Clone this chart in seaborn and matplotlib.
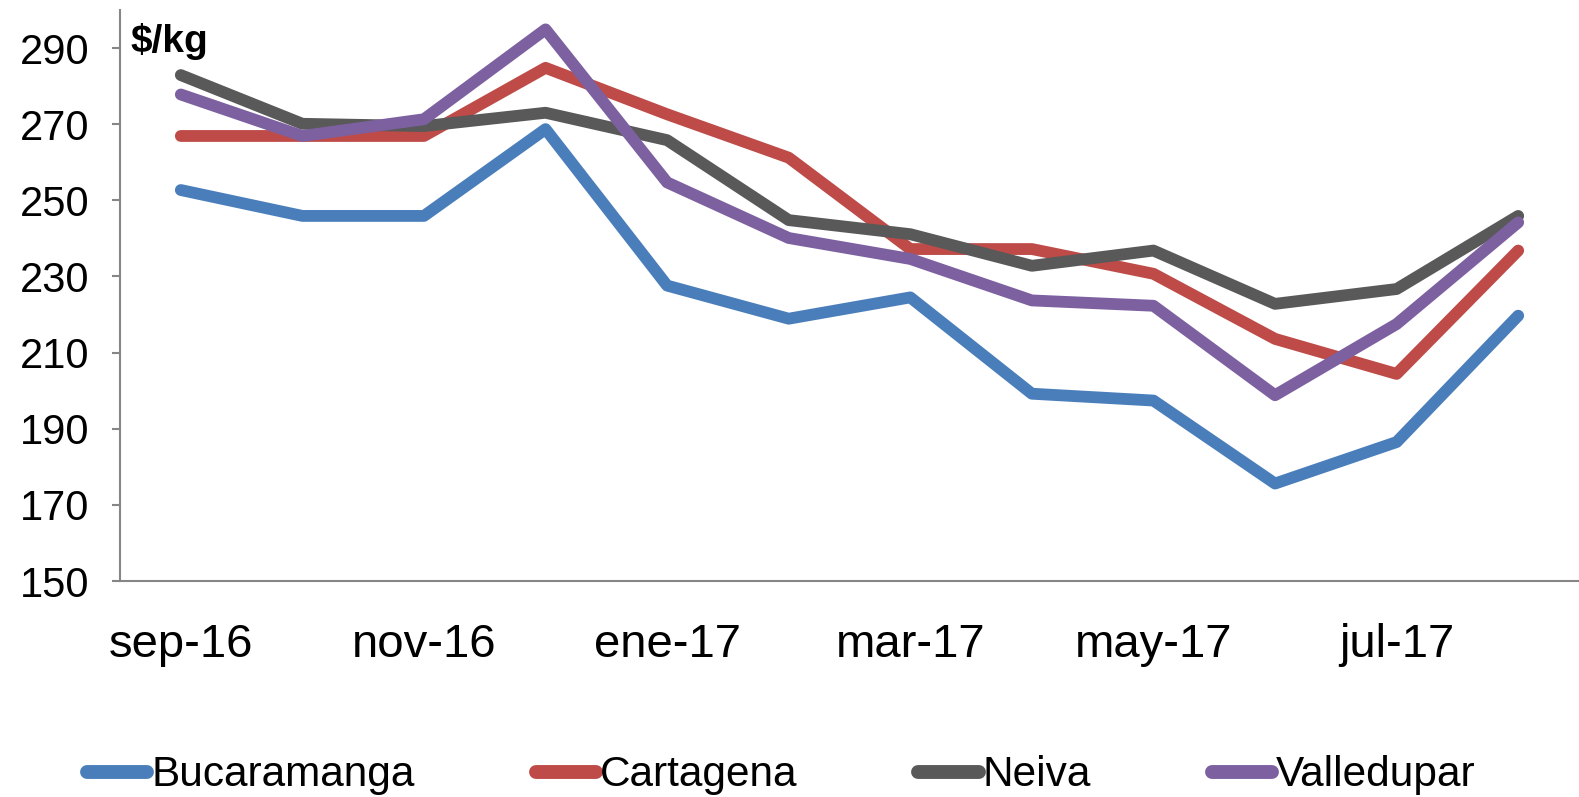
import matplotlib
matplotlib.use("Agg")
import matplotlib.pyplot as plt
import pandas as pd
import seaborn as sns

# Monthly prices ($/kg) per city, sep-16 .. ago-17
months = ["sep-16", "oct-16", "nov-16", "dic-16", "ene-17", "feb-17",
          "mar-17", "abr-17", "may-17", "jun-17", "jul-17", "ago-17"]
bucaramanga = [252.7, 245.9, 245.9, 268.7, 227.6, 218.9, 224.5, 199.2, 197.4, 175.6, 186.5, 219.7]
cartagena = [266.9, 266.9, 266.9, 284.8, 272.6, 261.2, 237.2, 237.2, 230.7, 213.6, 204.4, 236.8]
neiva = [282.9, 270.1, 269.5, 273.0, 265.8, 244.8, 241.1, 232.8, 236.8, 222.8, 226.7, 245.9]
valledupar = [277.8, 266.9, 271.3, 294.9, 254.7, 240.1, 234.6, 223.7, 222.3, 198.8, 217.5, 244.2]
cities = ["Bucaramanga", "Cartagena", "Neiva", "Valledupar"]
colors = ["#4A7EBB", "#BE4B48", "#595959", "#7D60A0"]

sns.set_theme(style="white")
plt.rcParams["font.family"] = ["Liberation Sans", "DejaVu Sans"]
plt.rcParams["text.color"] = "black"

rows = []
for city, vals in zip(cities, [bucaramanga, cartagena, neiva, valledupar]):
    for i, v in enumerate(vals):
        rows.append({"idx": i, "mes": months[i], "precio": v, "ciudad": city})
df = pd.DataFrame(rows)

fig = plt.figure(figsize=(15.79, 7.97), dpi=100)
ax = fig.add_axes([0.076, 0.271, 0.924, 0.7165])

sns.lineplot(data=df, x="idx", y="precio", hue="ciudad", hue_order=cities,
             palette=dict(zip(cities, colors)), linewidth=8.5,
             solid_capstyle="round", ax=ax, legend=False)

ax.set_xlim(-0.5, len(months) - 0.5)
ax.set_ylim(150, 300)
ax.set_yticks(range(150, 300, 20))
ax.set_xticks(range(0, len(months), 2))
ax.set_xticklabels(months[::2])
ax.set_xlabel("")
ax.set_ylabel("")

for s in ["top", "right"]:
    ax.spines[s].set_visible(False)
for s in ["left", "bottom"]:
    ax.spines[s].set_color("#868686")
    ax.spines[s].set_linewidth(1.5)
ax.tick_params(axis="y", labelsize=30, length=6, width=1.5, color="#868686",
               pad=16, left=True, labelcolor="black")
ax.tick_params(axis="x", labelsize=34, length=0, pad=30, labelcolor="black")

ax.text(0.007, 0.978, "$/kg", transform=ax.transAxes, fontsize=28,
        fontweight="bold", va="top", ha="left", color="black")

handles = [plt.Line2D([], [], color=c, linewidth=10, solid_capstyle="round") for c in colors]
fig.legend(handles, cities, loc="center", bbox_to_anchor=(0.495, 0.027), ncol=4,
           frameon=False, fontsize=30.5, handlelength=1.42, handletextpad=0.1,
           columnspacing=2.85, labelcolor="black")

fig.savefig("out.png", dpi=100)
plt.close(fig)
